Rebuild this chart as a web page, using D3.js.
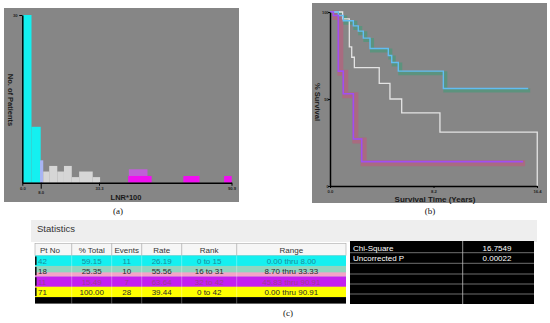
<!DOCTYPE html>
<html><head><meta charset="utf-8">
<script src="https://cdn.jsdelivr.net/npm/d3@7"></script>
<style>body{margin:0;background:#fff;} svg{display:block;font-family:"Liberation Sans",Arial,sans-serif;}</style>
</head><body><svg id="c" width="550" height="323"></svg>
<script>
// ---------- DATA ----------
// Panel (a): histogram of LNR*100, bins [start, end, count]
const lnrTicks = [0, 8.0, 33.33, 90.91];
const lnrTickLabels = ["0.0", "8.0", "33.3", "90.9"];
const countTicks = [30];
const cyanBins = [[0, 4, 30], [4, 8, 10]];
const lavenderBins = [[7.7, 9.1, 4]];
const grayBins = [[9.1, 11.7, 2], [11.7, 15.2, 3], [15.2, 18.1, 2], [18.1, 21.5, 3], [21.5, 24.7, 1], [24.7, 30.6, 2], [30.6, 33.8, 1]];
const magentaBins = [[46.0, 56.2, 1.2], [70.0, 77.0, 1.2], [87.7, 91.0, 1.2]];
const purpleTopBins = [[46.3, 54.4, 1.2]];

// Panel (b): Kaplan-Meier curves (time in years, % survival)
const survTicks = [0, 8.2, 16.4];
const survTickLabels = ["0.0", "8.2", "16.4"];
const pctTicks = [0, 50, 100];
const blueTime = [0, 0.66, 1.05, 1.85, 2.24, 2.64, 3.17, 4.62, 4.89, 5.41, 8.98, 15.7];
const blueSurv = [100, 98, 95, 92, 89, 85, 79, 75, 71, 66, 56, 56];
const whiteTime = [0, 1.0, 1.53, 1.72, 1.93, 3.9, 4.75, 5.68, 8.71, 16.42];
const whiteSurv = [100, 96, 80, 74, 68, 59, 50, 42, 31, 0];
const purpleTime = [0, 0.27, 0.66, 1.05, 1.85, 2.51, 15.3];
const purpleSurv = [100, 98, 66, 53, 27, 14, 14];

// Panel (c): statistics table
const headers = ["Pt No", "% Total", "Events", "Rate", "Rank", "Range"];
const ptNo = ["42", "18", "11", "71"];
const pctTotal = ["59.15", "25.35", "15.49", "100.00"];
const events = ["11", "10", "7", "28"];
const rate = ["26.19", "55.56", "63.64", "39.44"];
const rank = ["0 to 15", "16 to 31", "32 to 42", "0 to 42"];
const rangeTxt = ["0.00 thru 8.00", "8.70 thru 33.33", "45.83 thru 90.91", "0.00 thru 90.91"];
const statNames = ["Chi-Square", "Uncorrected P"];
const statValues = ["16.7549", "0.00022"];

// ---------- DRAW ----------
const svg = d3.select("#c");

// ===== Panel (a) =====
svg.append("rect").attr("x", 4).attr("y", 8).attr("width", 235).attr("height", 194).attr("fill", "#868686");
const xA = d3.scaleLinear().domain([0, 90.91]).range([22.3, 231.5]);
const yA = d3.scaleLinear().domain([0, 30]).range([182.7, 15]);
const gA = svg.append("g");
function bars(data, color) {
  gA.selectAll(null).data(data).enter().append("rect")
    .attr("x", d => xA(d[0])).attr("width", d => xA(d[1]) - xA(d[0]))
    .attr("y", d => yA(d[2])).attr("height", d => yA(0) - yA(d[2]))
    .attr("fill", color);
}
bars(cyanBins, "#14f0f0");
bars(lavenderBins, "#a8b4f4");
bars(grayBins, "#d6d6d6");
gA.selectAll(null).data(purpleTopBins).enter().append("rect")
  .attr("x", d => xA(d[0])).attr("width", d => xA(d[1]) - xA(d[0]))
  .attr("y", d => yA(d[2] + magentaBins[0][2])).attr("height", d => yA(0) - yA(d[2]))
  .attr("fill", "#c060d8");
bars(magentaBins, "#f010f0");

const axA = gA.append("g").attr("transform", `translate(0,${yA(0)})`)
  .call(d3.axisBottom(xA).tickValues(lnrTicks).tickFormat((d, i) => lnrTickLabels[i]).tickSize(3).tickSizeOuter(0));
axA.select(".domain").attr("stroke", "#000").attr("stroke-width", 1.5);
axA.selectAll(".tick line").attr("stroke", "#000");
axA.selectAll(".tick text").attr("font-size", 4.2).attr("fill", "#222").attr("font-weight", "bold").attr("dy", "0.4em");
axA.selectAll(".tick").filter(d => d === 8.0).select("text").attr("dy", "1.3em");
axA.selectAll(".tick").filter(d => d === 8.0).select("line").attr("y2", 6);
const ayA = gA.append("g").attr("transform", `translate(${xA(0)},0)`)
  .call(d3.axisLeft(yA).tickValues(countTicks).tickSize(3).tickSizeOuter(0));
ayA.select(".domain").attr("stroke", "#000").attr("stroke-width", 1.5);
ayA.selectAll(".tick line").attr("stroke", "#000");
ayA.selectAll(".tick text").attr("font-size", 4.2).attr("fill", "#222").attr("font-weight", "bold").attr("dx", "0.3em");
svg.append("text").attr("transform", "translate(8,100) rotate(90)").attr("text-anchor", "middle")
  .attr("font-size", 7.5).attr("font-weight", "bold").attr("fill", "#1a1a1a").text("No. of Patients");
svg.append("text").attr("x", 126).attr("y", 199.5).attr("text-anchor", "middle")
  .attr("font-size", 7.5).attr("font-weight", "bold").attr("fill", "#1a1a1a").text("LNR*100");

// ===== Panel (b) =====
svg.append("rect").attr("x", 312).attr("y", 3).attr("width", 235).attr("height", 200).attr("fill", "#868686");
const xB = d3.scaleLinear().domain([0, 16.4]).range([330, 537]);
const yB = d3.scaleLinear().domain([0, 100]).range([186, 12]);
const gB = svg.append("g");
const line = d3.line().x(d => xB(d[0])).y(d => yB(d[1])).curve(d3.curveStepAfter);
const bluePts = blueTime.map((t, i) => [t, blueSurv[i]]);
const whitePts = whiteTime.map((t, i) => [t, whiteSurv[i]]);
const purplePts = purpleTime.map((t, i) => [t, purpleSurv[i]]);
gB.append("path").attr("d", line(bluePts)).attr("transform", "translate(2,2)")
  .attr("fill", "none").attr("stroke", "#3a9e78").attr("stroke-width", 4).attr("opacity", 0.55);
gB.append("path").attr("d", line(purplePts)).attr("transform", "translate(2,1.5)")
  .attr("fill", "none").attr("stroke", "#b8607e").attr("stroke-width", 6).attr("opacity", 0.7);
gB.append("path").attr("d", line(whitePts)).attr("fill", "none").attr("stroke", "#e4e4e4").attr("stroke-width", 1.3);
gB.append("path").attr("d", line(bluePts)).attr("fill", "none").attr("stroke", "#62bdf2").attr("stroke-width", 1.4);
gB.append("path").attr("d", line(purplePts)).attr("fill", "none").attr("stroke", "#a04ef4").attr("stroke-width", 1.6);

const axB = gB.append("g").attr("transform", `translate(0,${yB(0)})`)
  .call(d3.axisBottom(xB).tickValues(survTicks).tickFormat((d, i) => survTickLabels[i]).tickSize(2).tickSizeOuter(0));
axB.select(".domain").attr("stroke", "#000").attr("stroke-width", 1.5);
axB.selectAll(".tick line").attr("stroke", "#000");
axB.selectAll(".tick text").attr("font-size", 4.2).attr("fill", "#222").attr("font-weight", "bold").attr("dy", "0.4em");
const ayB = gB.append("g").attr("transform", `translate(${xB(0)},0)`)
  .call(d3.axisLeft(yB).tickValues(pctTicks).tickSize(2).tickSizeOuter(0));
ayB.select(".domain").attr("stroke", "#000").attr("stroke-width", 1.5);
ayB.selectAll(".tick line").attr("stroke", "#000");
ayB.selectAll(".tick text").attr("font-size", 4).attr("fill", "#222").attr("font-weight", "bold").attr("dx", "0.9em");
svg.append("text").attr("transform", "translate(315,102) rotate(90)").attr("text-anchor", "middle")
  .attr("font-size", 7.5).attr("font-weight", "bold").attr("fill", "#1a1a1a").text("% Survival");
svg.append("text").attr("x", 435).attr("y", 202).attr("text-anchor", "middle")
  .attr("font-size", 8).attr("font-weight", "bold").attr("fill", "#1a1a1a").text("Survival Time (Years)");

// captions
const cap = (x, y, t) => svg.append("text").attr("x", x).attr("y", y).attr("text-anchor", "middle")
  .attr("font-family", "Liberation Serif, serif").attr("font-size", 9).attr("fill", "#111").text(t);
cap(118, 214, "(a)");
cap(430, 214, "(b)");
cap(288, 316, "(c)");

// ===== Panel (c) table =====
svg.append("rect").attr("x", 31).attr("y", 220).attr("width", 506).attr("height", 22).attr("fill", "#eeeeee");
svg.append("text").attr("x", 37).attr("y", 231.5).attr("font-size", 9.5).attr("fill", "#333").text("Statistics");

const colEdges = [35, 71.7, 111.7, 141.7, 181.7, 236.7, 346];
const headTop = 243.5, headH = 12, rowH = 10.4;
const gT = svg.append("g");
gT.append("rect").attr("x", colEdges[0]).attr("y", headTop).attr("width", colEdges[6] - colEdges[0]).attr("height", headH)
  .attr("fill", "#f6f6f6").attr("stroke", "#a8a8a8").attr("stroke-width", 0.6);
gT.selectAll(null).data(colEdges.slice(1, 6)).enter().append("line")
  .attr("x1", d => d).attr("x2", d => d).attr("y1", headTop).attr("y2", headTop + headH)
  .attr("stroke", "#a8a8a8").attr("stroke-width", 0.7);
gT.selectAll(null).data(headers).enter().append("text")
  .attr("x", (d, i) => i === 0 ? colEdges[0] + 5 : (colEdges[i] + colEdges[i + 1]) / 2)
  .attr("y", headTop + 9).attr("text-anchor", (d, i) => i === 0 ? "start" : "middle")
  .attr("font-size", 8).attr("fill", "#333").text(d => d);

const rowColors = ["#14f0f0", "#8fd6c0", "#c420f0", "#ffff00"];
const textColors = ["#1a8c9c", "#2a2a2a", "#a03a8a", "#2a2a2a"];
const rowsTop = headTop + headH;
const rows = ptNo.map((p, i) => [p, pctTotal[i], events[i], rate[i], rank[i], rangeTxt[i]]);
gT.selectAll(null).data(rowColors).enter().append("rect")
  .attr("x", colEdges[0]).attr("y", (d, i) => rowsTop + i * rowH).attr("width", colEdges[6] - colEdges[0]).attr("height", rowH + 0.3)
  .attr("fill", d => d);
gT.append("rect").attr("x", colEdges[0]).attr("y", rowsTop + rowH * 1.62).attr("width", colEdges[6] - colEdges[0]).attr("height", rowH * 0.38)
  .attr("fill", "#f4a4c8");
gT.append("rect").attr("x", colEdges[0]).attr("y", rowsTop + 4 * rowH).attr("width", colEdges[6] - colEdges[0]).attr("height", 6.5).attr("fill", "#000");
gT.selectAll(null).data(colEdges.slice(1, 6)).enter().append("line")
  .attr("x1", d => d).attr("x2", d => d).attr("y1", rowsTop).attr("y2", rowsTop + 4 * rowH + 6.5)
  .attr("stroke", "#ffffff").attr("stroke-opacity", 0.45).attr("stroke-width", 0.7);
gT.selectAll(null).data(rowColors).enter().append("rect")
  .attr("x", colEdges[0]).attr("y", (d, i) => rowsTop + i * rowH + 1).attr("width", 1.6).attr("height", rowH - 2).attr("fill", "#111");
rows.forEach((r, i) => {
  gT.selectAll(null).data(r).enter().append("text")
    .attr("x", (d, j) => j === 0 ? colEdges[0] + 3 : (colEdges[j] + colEdges[j + 1]) / 2)
    .attr("y", rowsTop + i * rowH + 8.3).attr("text-anchor", (d, j) => j === 0 ? "start" : "middle")
    .attr("font-size", 8).attr("fill", textColors[i]).text(d => d);
});

// right statistics table
const gS = svg.append("g");
gS.append("rect").attr("x", 350).attr("y", 241).attr("width", 184).attr("height", 63).attr("fill", "#000");
gS.selectAll(null).data([252.7, 263.3, 274, 284, 294]).enter().append("line")
  .attr("x1", 350).attr("x2", 534).attr("y1", d => d).attr("y2", d => d).attr("stroke", "#8a8a8a").attr("stroke-width", 0.8);
gS.append("line").attr("x1", 462.7).attr("x2", 462.7).attr("y1", 241).attr("y2", 304).attr("stroke", "#bbbbbb").attr("stroke-width", 0.8);
gS.selectAll(null).data(statNames).enter().append("text")
  .attr("x", 353).attr("y", (d, i) => 250.5 + i * 10.6).attr("font-size", 8).attr("fill", "#fff").text(d => d);
gS.selectAll(null).data(statValues).enter().append("text")
  .attr("x", 497).attr("y", (d, i) => 250.5 + i * 10.6).attr("text-anchor", "middle").attr("font-size", 8).attr("fill", "#fff").text(d => d);
</script></body></html>
